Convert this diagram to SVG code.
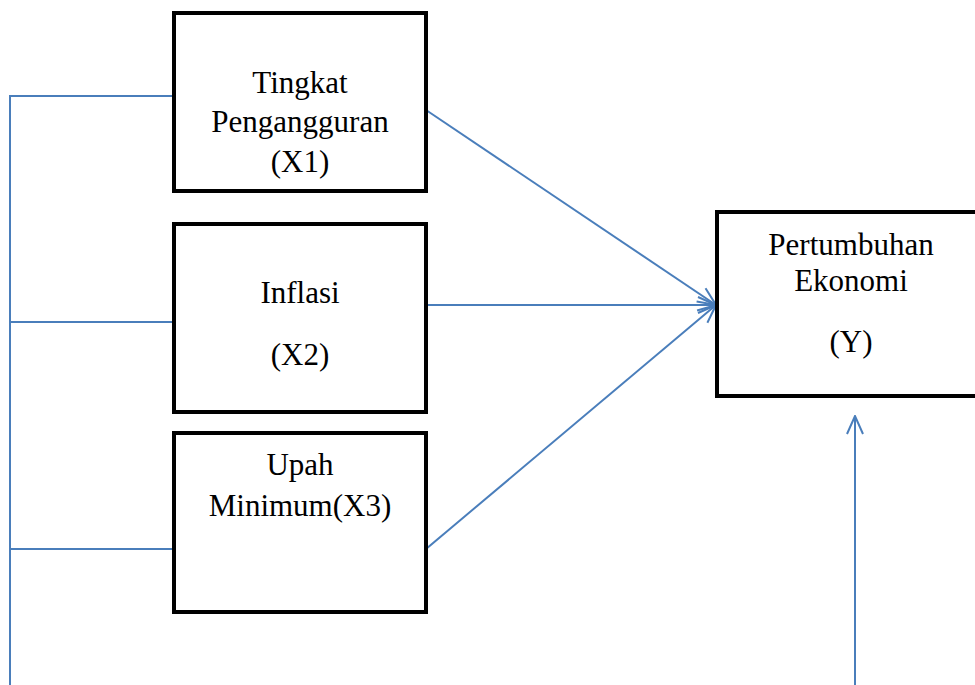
<svg xmlns="http://www.w3.org/2000/svg" width="975" height="685" viewBox="0 0 975 685">
<defs>
<style>
.box{fill:#fff;stroke:#000;stroke-width:4}
.c{stroke:#4A7EBB;stroke-width:2;fill:none}
</style>
<marker id="ah" viewBox="0 0 20 20" refX="19" refY="10" markerWidth="20" markerHeight="20" markerUnits="userSpaceOnUse" orient="auto">
<path d="M1,2 L19,10 L1,18" fill="none" stroke="#4A7EBB" stroke-width="2"/>
</marker>
</defs>
<rect width="975" height="685" fill="#fff"/>
<g id="connectors">
<polyline class="c" points="174,96 10,96 10,685"/>
<line class="c" x1="10" y1="322" x2="174" y2="322"/>
<line class="c" x1="10" y1="549" x2="174" y2="549"/>
<line class="c" x1="426" y1="110" x2="716" y2="305" marker-end="url(#ah)"/>
<line class="c" x1="426" y1="305" x2="716" y2="305" marker-end="url(#ah)"/>
<line class="c" x1="426" y1="549" x2="716" y2="305" marker-end="url(#ah)"/>
<line class="c" x1="855" y1="685" x2="855" y2="416" marker-end="url(#ah)"/>
</g>
<g font-family="'Liberation Serif', 'Times New Roman', 'DejaVu Serif', serif" font-size="31" fill="#000" text-anchor="middle">
<g id="x1">
<rect class="box" x="174" y="13" width="252" height="178"/>
<text x="300" y="93">Tingkat</text>
<text x="300" y="132">Pengangguran</text>
<text x="300" y="172">(X1)</text>
</g>
<g id="x2">
<rect class="box" x="174" y="224" width="252" height="188"/>
<text x="300" y="303">Inflasi</text>
<text x="300" y="365">(X2)</text>
</g>
<g id="x3">
<rect class="box" x="174" y="433" width="252" height="179"/>
<text x="300" y="475">Upah</text>
<text x="300" y="516">Minimum(X3)</text>
</g>
<g id="y">
<rect class="box" x="717" y="212" width="262" height="184"/>
<text x="851" y="255">Pertumbuhan</text>
<text x="851" y="291">Ekonomi</text>
<text x="851" y="352">(Y)</text>
</g>
</g>
</svg>
